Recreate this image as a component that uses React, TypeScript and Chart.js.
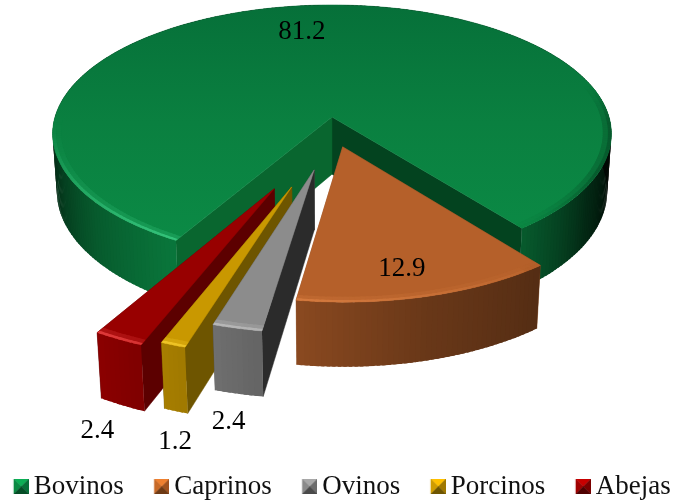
import React, { useEffect, useRef } from "react";
import { Chart, registerables } from "chart.js";

Chart.register(...registerables);

const categories = ["Bovinos", "Caprinos", "Ovinos", "Porcinos", "Abejas"];
const values = [81.2, 12.9, 2.4, 1.2, 2.4];
const valueLabels = ["81.2", "12.9", "2.4", "1.2", "2.4"];
const explosion = [0, 23.2, 40.1, 53.3, 56.3];

// Styling tables
const TOP_COLORS = ["#0a8040", "#b5602a", "#8c8c8c", "#c99800", "#980000"];
const LIGHT_COLORS = ["#3fd088", "#ee9050", "#d0d0d0", "#ffd838", "#f04848"];
const START_WALL_COLORS = ["#09662f", "#8a4c22", "#2b2b2b", "#6e5500", "#5c0000"];
const END_WALL_COLORS = ["#03431f", "#8a4c22", "#555555", "#6e5500", "#5c0000"];
const SKEW_DEG = [0, 5.5, -4, -4.45, -5.5];
const LABEL_SHIFT = [[-13, 27], [-26, -27], [-8.5, 94], [2, 97], [-21, 92]];
const DRAW_ORDER = [0, 4, 3, 2, 1];
const MARKERS = [
  ["#0cae55", "#0a8a44", "#067038", "#044d26"],
  ["#ee8030", "#c86a28", "#a0521e", "#6e3a14"],
  ["#a8a8a8", "#8a8a8a", "#6c6c6c", "#4a4a4a"],
  ["#ffc000", "#cf9c00", "#a07800", "#6e5500"],
  ["#c80000", "#a00000", "#7a0000", "#500000"],
];

const SHIFT_X = 18;
const CX = 332 + SHIFT_X, CY = 117, RX = 277, RY = 126.6, K = 0.13, DEPTH = 58, ZK = 0.015;
const W = 726, H = 510;
const rad = (d: number) => (d * Math.PI) / 180;

type V = [number, number];
function project(u: number, v: number, z: number): V {
  const w = 1 - K * v + ZK * z;
  return [CX + (RX * u) / w, CY + (RY * v + DEPTH * z) / w];
}
function hexToRgb(h: string) {
  return [1, 3, 5].map((i) => parseInt(h.slice(i, i + 2), 16));
}
function toHex(c: number[]) {
  return "#" + c.map((x) => Math.round(x).toString(16).padStart(2, "0")).join("");
}
function mix(a: string, b: string, t: number) {
  const A = hexToRgb(a), B = hexToRgb(b);
  return toHex(A.map((c, i) => c + (B[i] - c) * t));
}
function interp(table: number[][], d: number) {
  let x = ((d % 360) + 360) % 360;
  if (x > 270) x -= 360;
  for (let i = 0; i < table.length - 1; i++) {
    const [a, fa] = table[i], [b, fb] = table[i + 1];
    if (x >= a && x <= b) return fa + ((fb - fa) * (x - a)) / (b - a);
  }
  return table[table.length - 1][1];
}
const WALL = [[-90, 0.02], [0, 0.06], [12, 0.1], [30, 0.32], [52, 0.72], [99, 0.72], [120, 0.92], [140, 0.72], [165, 0.38], [182, 0.16], [200, 0.08], [270, 0.05]];
const WALL_CAPRINOS = [[50, 0.46], [75, 0.58], [100, 0.78]];
const GLOW = [[-90, 0], [45, 0], [70, 0.35], [99, 0.7], [120, 1], [150, 0.5], [172, 0.05], [180, 0], [270, 0]];
const SHADE = [[-90, 0], [-15, 0], [2, 0.3], [25, 0.3], [48, 0.04], [55, 0], [270, 0]];

function poly(ctx: CanvasRenderingContext2D, pts: V[], fill: any, stroke = true) {
  ctx.beginPath();
  pts.forEach((p, i) => (i ? ctx.lineTo(p[0], p[1]) : ctx.moveTo(p[0], p[1])));
  ctx.closePath();
  ctx.fillStyle = fill;
  ctx.fill();
  if (stroke) {
    ctx.strokeStyle = fill;
    ctx.lineWidth = 0.5;
    ctx.stroke();
  }
}

function sliceGeometry(el: any, i: number) {
  const a0 = (el.startAngle * 180) / Math.PI;
  const a1 = (el.endAngle * 180) / Math.PI;
  const mid = (a0 + a1) / 2;
  const r = (el.options.offset || 0) / 100;
  const dir = rad(mid + SKEW_DEG[i]);
  return { a0, a1, mid, ou: r * Math.cos(dir), ov: r * Math.sin(dir) };
}

function greenAt(y: number) {
  const t = Math.max(0, Math.min(1, (y - 5) / 235));
  return t < 0.5 ? mix("#067039", "#0a8040", t / 0.5) : mix("#0a8040", "#0b8a45", (t - 0.5) / 0.5);
}

function drawSlice(ctx: CanvasRenderingContext2D, el: any, i: number) {
  const { a0, a1, ou, ov } = sliceGeometry(el, i);
  const top = TOP_COLORS[i];
  const n = Math.max(2, Math.ceil(a1 - a0));
  const step = (a1 - a0) / n;
  const rim = (r: number, t: number, z: number): V => {
    const a = rad(t);
    return project(ou + r * Math.cos(a), ov + r * Math.sin(a), z);
  };
  const apexTop = project(ou, ov, 0);
  const apexBot = project(ou, ov, 1);
  // radial walls
  poly(ctx, [apexTop, rim(1, a1, 0), rim(1, a1, 1), apexBot], END_WALL_COLORS[i]);
  poly(ctx, [apexTop, rim(1, a0, 0), rim(1, a0, 1), apexBot], START_WALL_COLORS[i]);
  // outer wall, overlapped so that no seams show
  for (let s = n - 1; s >= 0; s--) {
    const t0 = a0 + step * s;
    const t1 = Math.min(a1, t0 + step * 1.6);
    const f = interp(i === 1 ? WALL_CAPRINOS : WALL, t0 + step / 2);
    poly(ctx, [rim(1, t0, 0), rim(1, t1, 0), rim(1, t1, 1), rim(1, t0, 1)], mix("#000000", top, f), false);
  }
  // top face
  const pts: V[] = [apexTop];
  for (let s = 0; s <= n; s++) pts.push(rim(1, a0 + step * s, 0));
  let fill: any = top;
  if (i === 0) {
    const g = ctx.createLinearGradient(0, 5, 0, 240);
    g.addColorStop(0, "#067039");
    g.addColorStop(0.5, "#0a8040");
    g.addColorStop(1, "#0b8a45");
    fill = g;
  }
  poly(ctx, pts, fill);
  // bevel along the rim
  for (let s = n - 1; s >= 0; s--) {
    const t0 = a0 + step * s;
    const t1 = Math.min(a1, t0 + step * 1.6);
    const m = t0 + step / 2;
    const h = interp(GLOW, m);
    const d = interp(SHADE, m);
    if (h < 0.01 && d < 0.01) continue;
    const base = i === 0 ? greenAt(rim(0.98, m, 0)[1]) : top;
    const c1 = d > 0 ? mix(base, "#000000", d * 0.5) : mix(base, LIGHT_COLORS[i], h * 0.25);
    const c2 = d > 0 ? mix(base, "#000000", d) : mix(base, LIGHT_COLORS[i], h * 0.8);
    poly(ctx, [rim(0.97, t0, 0), rim(0.97, t1, 0), rim(0.988, t1, 0), rim(0.988, t0, 0)], c1, false);
    poly(ctx, [rim(0.988, t0, 0), rim(0.988, t1, 0), rim(1, t1, 0), rim(1, t0, 0)], c2, false);
  }
}

const pie3d = {
  id: "pie3d",
  beforeDatasetDraw(chart: any) {
    const ctx = chart.ctx;
    const meta = chart.getDatasetMeta(0);
    ctx.save();
    DRAW_ORDER.forEach((i) => drawSlice(ctx, meta.data[i], i));
    ctx.restore();
    return false;
  },
  afterDatasetsDraw(chart: any) {
    const ctx = chart.ctx;
    const meta = chart.getDatasetMeta(0);
    ctx.save();
    ctx.font = "27px 'Liberation Serif'";
    ctx.fillStyle = "#000";
    ctx.textAlign = "center";
    ctx.textBaseline = "middle";
    meta.data.forEach((el: any, i: number) => {
      const { mid, ou, ov } = sliceGeometry(el, i);
      const a = rad(mid);
      const p = project(ou + Math.cos(a), ov + Math.sin(a), 0);
      ctx.fillText(valueLabels[i], p[0] + LABEL_SHIFT[i][0], p[1] + LABEL_SHIFT[i][1]);
    });
    ctx.restore();
  },
};

function markerCanvas(i: number) {
  const c = document.createElement("canvas");
  c.width = 18;
  c.height = 15;
  const g = c.getContext("2d")!;
  const [t, l, r, b] = MARKERS[i];
  const tri = (pts: number[][], col: string) => {
    g.beginPath();
    g.moveTo(pts[0][0] + 3, pts[0][1]);
    g.lineTo(pts[1][0] + 3, pts[1][1]);
    g.lineTo(7.5 + 3, 7.5);
    g.closePath();
    g.fillStyle = col;
    g.strokeStyle = col;
    g.lineWidth = 0.4;
    g.fill();
    g.stroke();
  };
  tri([[0, 0], [15, 0]], t);
  tri([[0, 0], [0, 15]], l);
  tri([[15, 0], [15, 15]], r);
  tri([[0, 15], [15, 15]], b);
  return c;
}

export default function App() {
  const ref = useRef<HTMLCanvasElement>(null);
  useEffect(() => {
    const chart = new Chart(ref.current!, {
      type: "pie",
      data: {
        labels: categories,
        datasets: [
          {
            data: values,
            backgroundColor: TOP_COLORS,
            borderWidth: 0,
            offset: explosion,
          },
        ],
      },
      options: {
        responsive: false,
        animation: false,
        devicePixelRatio: 1,
        rotation: 210,
        plugins: {
          tooltip: { enabled: false },
          legend: {
            position: "bottom",
            labels: {
              usePointStyle: true,
              pointStyleWidth: 1,
              padding: 36,
              color: "#111",
              font: { family: "'Liberation Serif'", size: 27 },
              generateLabels: (c: any) =>
                (Chart as any).overrides.pie.plugins.legend.labels
                  .generateLabels(c)
                  .map((it: any, i: number) => ({ ...it, pointStyle: markerCanvas(i), fontColor: "#111" })),
            },
          },
        },
      } as any,
      plugins: [pie3d as any],
    });
    return () => chart.destroy();
  }, []);
  return (
    <div style={{ position: "fixed", left: 0, top: 0, width: 673, height: 501, overflow: "hidden", background: "#fff" }}>
      <canvas ref={ref} width={W} height={H} style={{ display: "block", marginLeft: -SHIFT_X }} />
    </div>
  );
}
